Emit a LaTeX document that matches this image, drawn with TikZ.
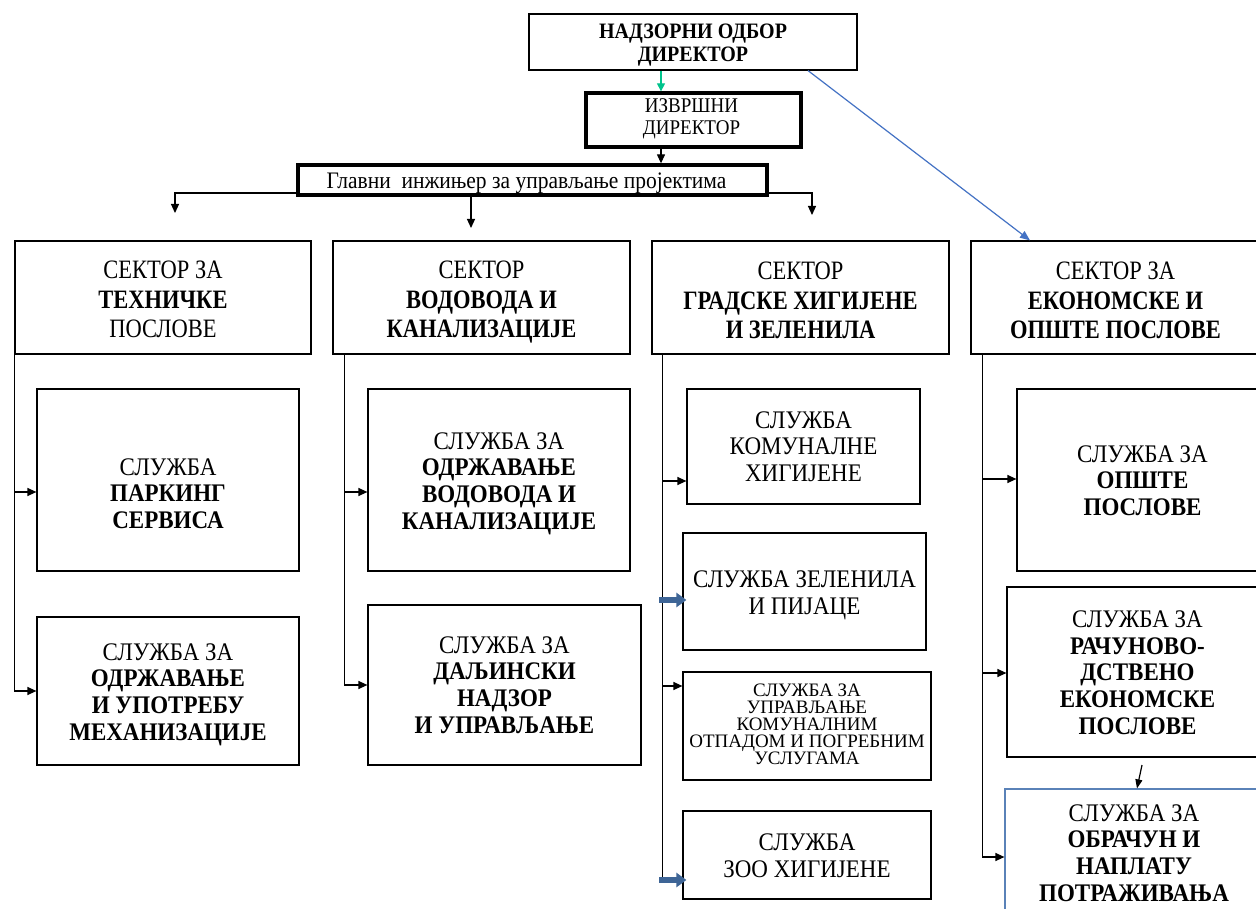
\documentclass[tikz,border=0pt]{standalone}
\usepackage{fontspec}
\usepackage{graphicx}
\setmainfont{Liberation Serif}
\usetikzlibrary{arrows.meta,calc}
\definecolor{grn}{HTML}{00C48C}
\definecolor{diagblue}{HTML}{4472C4}
\definecolor{thickblue}{HTML}{3E6596}
\definecolor{bfourblue}{HTML}{5A82B8}
\newcommand\st[1]{\scalebox{1}[1.1]{\begin{tabular}{@{}c@{}}#1\end{tabular}}}
\newcommand\sst[1]{\scalebox{1}[1.18]{\begin{tabular}{@{}c@{}}#1\end{tabular}}}
\begin{document}
\begin{tikzpicture}[x=1pt,y=-1pt,
  box/.style={draw, line width=1.2pt, inner sep=0pt},
  thickbox/.style={draw, line width=3.3pt, inner sep=0pt},
  txt/.style={inner sep=0pt, align=center, font=\fontsize{23}{24.3}\selectfont},
  sectxt/.style={inner sep=0pt, align=center, font=\fontsize{22.5}{25}\selectfont},
  arr/.style={line width=1.2pt, -{Triangle[length=9pt,width=8pt]}},
  smallarr/.style={line width=1.2pt, -{Triangle[length=9pt,width=7pt]}},
  plainline/.style={line width=1.2pt},
  greenarr/.style={line width=1.2pt, grn, -{Triangle[length=8pt,width=8pt]}},
  diagarr/.style={line width=1.2pt, diagblue, -{Triangle[length=10pt,width=8pt]}},
  bluearr/.style={line width=6pt, thickblue, -{Triangle[length=10pt,width=14pt]}}
]
\useasboundingbox (0,0) rectangle (1256,909);
\clip (0,0) rectangle (1256,909);
\fill[white] (0,0) rectangle (1256,909);

% top levels
\node[box, minimum width=328pt, minimum height=56pt] (top) at (693,42) {};
\node[txt, font=\fontsize{20}{20.9}\selectfont\bfseries] (toptxt)
  at ([yshift=-3pt]top.center) {\st{НАДЗОРНИ ОДБОР\\ДИРЕКТОР}};
\node[thickbox, minimum width=215pt, minimum height=54pt] (exec) at (693.5,120) {};
\node[txt, font=\fontsize{19}{20}\selectfont] (exectxt)
  at ([xshift=-2pt,yshift=1pt]exec.center) {\st{ИЗВРШНИ\\ДИРЕКТОР}};
\node[thickbox, minimum width=469pt, minimum height=30pt] (chief) at (532.5,180) {};
\node[txt, font=\fontsize{21.5}{23}\selectfont] (chieftxt)
  at ([xshift=-6pt,yshift=-3pt]chief.center) {\st{Главни\ \ инжињер за управљање пројектима}};

% sectors
\node[box, minimum width=296pt, minimum height=113pt] (S1) at (163,297.5) {};
\node[sectxt] (S1txt) at ([yshift=-5pt]S1.center)
  {\sst{СЕКТОР ЗА\\\textbf{ТЕХНИЧКЕ}\\ПОСЛОВЕ}};
\node[box, minimum width=297pt, minimum height=113pt] (S2) at (481.5,297.5) {};
\node[sectxt] (S2txt) at ([yshift=-5pt]S2.center)
  {\sst{СЕКТОР\\\textbf{ВОДОВОДА И}\\\textbf{КАНАЛИЗАЦИЈЕ}}};
\node[box, minimum width=297pt, minimum height=113pt] (S3) at (800.5,297.5) {};
\node[sectxt] (S3txt) at ([yshift=-6pt]S3.center)
  {\sst{СЕКТОР\\\textbf{ГРАДСКЕ ХИГИЈЕНЕ}\\\textbf{И ЗЕЛЕНИЛА}}};
\node[box, minimum width=297pt, minimum height=113pt] (S4) at (1119.5,297.5) {};
\node[sectxt] (S4txt) at ([xshift=-4pt,yshift=-6pt]S4.center)
  {\sst{СЕКТОР ЗА\\\textbf{ЕКОНОМСКЕ И}\\\textbf{ОПШТЕ ПОСЛОВЕ}}};

% column 1
\node[box, minimum width=262pt, minimum height=182pt] (P1) at (168,480) {};
\node[txt] (P1txt) at ([yshift=-16.5pt]P1.center)
  {\st{СЛУЖБА\\\textbf{ПАРКИНГ}\\\textbf{СЕРВИСА}}};
\node[box, minimum width=262pt, minimum height=148pt] (M1) at (168,691) {};
\node[txt] (M1txt) at ([yshift=-4pt]M1.center)
  {\st{СЛУЖБА ЗА\\\textbf{ОДРЖАВАЊЕ}\\\textbf{И УПОТРЕБУ}\\\textbf{МЕХАНИЗАЦИЈЕ}}};

% column 2
\node[box, minimum width=262pt, minimum height=182pt] (V1) at (499,480) {};
\node[txt] (V1txt) at ([yshift=-4pt]V1.center)
  {\st{СЛУЖБА ЗА\\\textbf{ОДРЖАВАЊЕ}\\\textbf{ВОДОВОДА И}\\\textbf{КАНАЛИЗАЦИЈЕ}}};
\node[box, minimum width=273pt, minimum height=160pt] (D1) at (504.5,685) {};
\node[txt] (D1txt) at ([yshift=-3pt]D1.center)
  {\st{СЛУЖБА ЗА\\\textbf{ДАЉИНСКИ}\\\textbf{НАДЗОР}\\\textbf{И УПРАВЉАЊЕ}}};

% column 3
\node[box, minimum width=233pt, minimum height=115pt] (K3) at (803.5,446.5) {};
\node[txt] (K3txt) at ([yshift=-3pt]K3.center)
  {\st{СЛУЖБА\\КОМУНАЛНЕ\\ХИГИЈЕНЕ}};
\node[box, minimum width=243pt, minimum height=117pt] (Z3) at (804.5,591.5) {};
\node[txt] (Z3txt) at ([yshift=-4pt]Z3.center)
  {\st{СЛУЖБА ЗЕЛЕНИЛА\\И ПИЈАЦЕ}};
\node[box, minimum width=248pt, minimum height=108pt] (U3) at (807,726) {};
\node[txt, font=\fontsize{19}{17}\selectfont] (U3txt) at ([yshift=2pt]U3.center)
  {СЛУЖБА ЗА\\УПРАВЉАЊЕ\\КОМУНАЛНИМ\\ОТПАДОМ И ПОГРЕБНИМ\\УСЛУГАМА};
\node[box, minimum width=248pt, minimum height=88pt] (Z4) at (807,855) {};
\node[txt] (Z4txt) at ([yshift=-3.5pt]Z4.center)
  {\st{СЛУЖБА\\ЗОО ХИГИЈЕНЕ}};

% column 4
\node[box, minimum width=251pt, minimum height=182pt] (O4) at (1142.5,480) {};
\node[txt] (O4txt) at ([yshift=-3.5pt]O4.center)
  {\st{СЛУЖБА ЗА\\\textbf{ОПШТЕ}\\\textbf{ПОСЛОВЕ}}};
\node[box, minimum width=261pt, minimum height=170pt] (R4) at (1137.5,672) {};
\node[txt] (R4txt) at ([yshift=-3.5pt]R4.center)
  {\st{СЛУЖБА ЗА\\\textbf{РАЧУНОВО-}\\\textbf{ДСТВЕНО}\\\textbf{ЕКОНОМСКЕ}\\\textbf{ПОСЛОВЕ}}};
\node[box, draw=bfourblue, minimum width=263pt, minimum height=126pt] (B4) at (1136.5,852) {};
\node[txt] (B4txt) at ([xshift=-2.5pt,yshift=-4pt]B4.center)
  {\st{СЛУЖБА ЗА\\\textbf{ОБРАЧУН И}\\\textbf{НАПЛАТУ}\\\textbf{ПОТРАЖИВАЊА}}};

% top connectors
\coordinate (gx) at (661,0);
\draw[greenarr] (top.south -| gx) -- (exec.north -| gx);
\draw[arr] (exec.south -| gx) -- (chief.north -| gx);
\coordinate (busy) at (0,193);
\coordinate (t1) at (175,213);
\coordinate (t2) at (471,228);
\coordinate (t3) at (812,215);
\draw[arr] (chief.west |- busy) -| (t1);
\draw[arr] (chief.east |- busy) -| (t3);
\draw[arr] (chief.south -| t2) -- (t2);
\coordinate (d1) at (808,0);
\coordinate (d2) at (1030,0);
\draw[diagarr] (top.south -| d1) -- (S4.north -| d2);

% column 1 connectors
\draw[arr] (S1.south west) |- ([yshift=-12pt]P1.west);
\draw[arr] (S1.south west) |- (M1.west);
% column 2 connectors
\coordinate (c2) at ([xshift=12pt]S2.south west);
\draw[arr] (c2) |- ([yshift=-12pt]V1.west);
\draw[arr] (c2) |- (D1.west);
% column 3 connectors
\coordinate (c3) at ([xshift=11pt]S3.south west);
\coordinate (z3a) at ([yshift=-8.5pt]Z3.west);
\coordinate (z4a) at ([yshift=-25pt]Z4.west);
\draw[arr] (c3) |- ([yshift=-34.5pt]K3.west);
\draw[arr] (c3) |- ([yshift=40pt]U3.west);
\draw[plainline] (c3) -- (c3 |- z4a);
\draw[bluearr] ([xshift=-3pt]c3 |- z3a) -- ([xshift=4pt]z3a);
\draw[bluearr] ([xshift=-3pt]c3 |- z4a) -- ([xshift=4pt]z4a);
% column 4 connectors
\coordinate (c4) at ([xshift=12pt]S4.south west);
\draw[arr] (c4) |- ([yshift=1pt]O4.west);
\draw[arr] (c4) |- ([yshift=-1pt]R4.west);
\draw[arr] (c4) |- ([yshift=-5pt]B4.west);
\coordinate (sa) at (1142,765);
\coordinate (sb) at (1137,0);
\draw[smallarr] (sa) -- (B4.north -| sb);
\end{tikzpicture}
\end{document}
